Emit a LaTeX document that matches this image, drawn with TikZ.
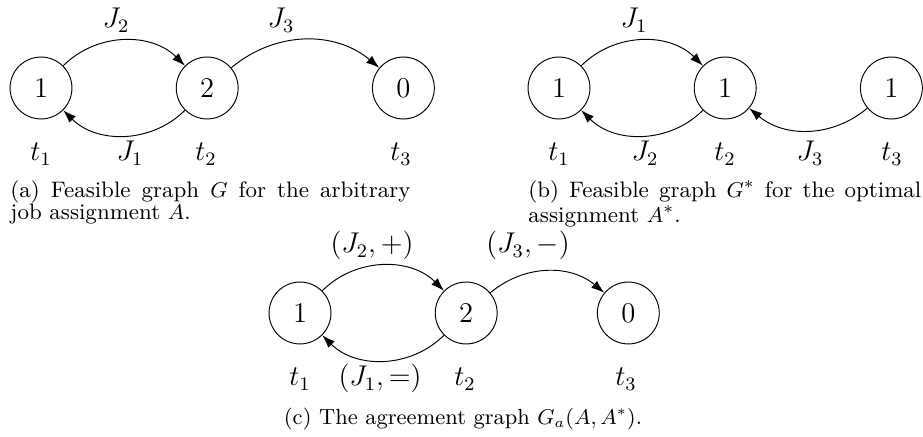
\documentclass[tikz,border=0pt]{standalone}
\usepackage{tikz}
\usetikzlibrary{arrows.meta,positioning}

\begin{document}
\begin{tikzpicture}[
  x=0.42pt, y=-0.42pt,
  node distance=43.4pt,
  st/.style={draw,circle,minimum size=26pt,inner sep=0pt,font=\large},
  lb/.style={font=\large,inner sep=0pt,anchor=base},
  arr/.style={-{Latex[length=5.5pt,width=3.8pt]},bend left=45},
  capt/.style={inner sep=0pt,anchor=north west,align=justify,font=\fontsize{9.4}{9.4}\selectfont}
]
\useasboundingbox (0,0) rectangle (923,437);

% (a) arbitrary assignment
\node[st] (a1) at (41,88) {1};
\node[st,right=of a1] (a2) {2};
\node[st,right=of a2,xshift=12.6pt] (a0) {0};
\node[lb] (ta1) at (41,161) {$t_1$};
\node[lb] (ja1) at (130,161) {$J_1$};
\node[lb] (ta2) at (206,161) {$t_2$};
\node[lb] (ta3) at (401,161) {$t_3$};
\node[lb] (ja2) at (116,28) {$J_2$};
\node[lb] (ja3) at (281,28) {$J_3$};
\draw[arr] (a1) to (a2);
\draw[arr] (a2) to (a1);
\draw[arr,bend left=40] (a2) to (a0);
\node[capt,text width=168pt] (capa) at (10,180)
  {(a) Feasible graph $G$ for the arbitrary\linebreak job assignment $A$.};

% (b) optimal assignment
\node[st] (b1) at (559,88) {1};
\node[st,right=of b1] (b2) {1};
\node[st,right=of b2] (b3) {1};
\node[lb] (tb1) at (559,161) {$t_1$};
\node[lb] (jb2) at (645,161) {$J_2$};
\node[lb] (tb2) at (725,161) {$t_2$};
\node[lb] (jb3) at (810,161) {$J_3$};
\node[lb] (tb3) at (892,161) {$t_3$};
\node[lb] (jb1) at (634,28) {$J_1$};
\draw[arr] (b1) to (b2);
\draw[arr] (b2) to (b1);
\draw[arr,bend left=40] (b3) to (b2);
\node[capt,text width=165pt] (capb) at (528,180)
  {(b) Feasible graph $G^*$ for the optimal\linebreak assignment $A^*$.};

% (c) agreement graph
\node[st] (c1) at (300,313) {1};
\node[st,right=of c1] (c2) {2};
\node[st,right=of c2,xshift=-1.7pt] (c0) {0};
\node[lb] (tc1) at (300,386) {$t_1$};
\node[lb] (jc1) at (380,386) {$(J_1,=)$};
\node[lb] (tc2) at (465,386) {$t_2$};
\node[lb] (tc3) at (626,386) {$t_3$};
\node[lb] (jc2) at (372,253) {$(J_2,+)$};
\node[lb] (jc3) at (528,253) {$(J_3,-)$};
\draw[arr] (c1) to (c2);
\draw[arr] (c2) to (c1);
\draw[arr,bend left=40] (c2) to (c0);
\node[lb,font=\fontsize{9.2}{9.4}\selectfont] (capc) at (463,425)
  {(c) The agreement graph $G_a(A,A^*)$.};
\end{tikzpicture}
\end{document}
